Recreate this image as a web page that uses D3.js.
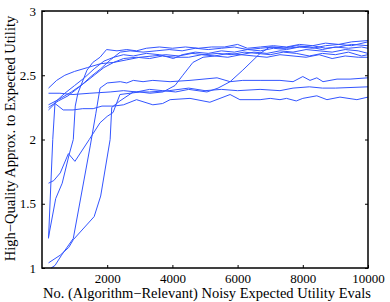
<!DOCTYPE html>
<html>
<head>
<meta charset="utf-8">
<script src="https://cdn.jsdelivr.net/npm/d3@7"></script>
<style>
  body { margin: 0; background: #fff; }
  text { font-family: "Liberation Serif", "Times New Roman", serif; fill: #000; }
</style>
</head>
<body>
<svg width="390" height="302"></svg>
<script>
// x = evals, y = utility, one array per run
const run1 = [[200,2.40],[450,2.46],[700,2.50],[1000,2.53],[1400,2.56],[1800,2.59],[2200,2.60],[2600,2.62],[3000,2.64],[3400,2.65],[3800,2.66],[4200,2.65],[4600,2.67],[5000,2.66],[5400,2.67],[5800,2.66],[6200,2.68],[6600,2.67],[7000,2.66],[7400,2.68],[7800,2.67],[8200,2.65],[8600,2.67],[9000,2.66],[9400,2.68],[9800,2.65],[10000,2.66]]
const run2 = [[200,2.27],[500,2.31],[900,2.37],[1300,2.44],[1600,2.50],[1900,2.56],[2200,2.60],[2500,2.63],[2900,2.64],[3300,2.63],[3700,2.65],[4100,2.64],[4500,2.64],[4900,2.66],[5300,2.65],[5700,2.64],[6100,2.66],[6500,2.65],[6900,2.64],[7300,2.66],[7700,2.65],[8100,2.64],[8500,2.66],[8900,2.63],[9300,2.65],[9700,2.64],[10000,2.64]]
const run3 = [[200,2.25],[500,2.30],[800,2.34],[1200,2.42],[1500,2.49],[1800,2.55],[2100,2.62],[2400,2.68],[2700,2.69],[3100,2.68],[3500,2.69],[3900,2.70],[4300,2.69],[4700,2.71],[5100,2.70],[5500,2.71],[5900,2.72],[6300,2.70],[6700,2.71],[7100,2.72],[7500,2.71],[7900,2.72],[8300,2.73],[8700,2.71],[9100,2.72],[9500,2.74],[10000,2.73]]
const run4 = [[200,1.24],[420,1.54],[620,1.66],[830,1.88],[960,2.00],[1020,2.26],[1100,2.36],[1380,2.54],[1560,2.60],[1780,2.64],[1980,2.70],[2300,2.69],[2600,2.70],[2900,2.69],[3200,2.71],[3600,2.72],[4000,2.71],[4400,2.72],[4800,2.71],[5200,2.72],[5600,2.72],[6000,2.74],[6300,2.71],[6700,2.72],[7100,2.73],[7500,2.72],[7900,2.74],[8300,2.73],[8700,2.75],[9100,2.74],[9500,2.76],[10000,2.77]]
const run5 = [[200,1.66],[360,1.68],[560,1.74],[810,1.89],[1010,1.83],[1450,2.00],[1780,2.13],[2000,2.18],[2180,2.21],[2390,2.35],[2700,2.36],[3000,2.37],[3310,2.36],[3710,2.37],[4080,2.42],[4320,2.50],[4630,2.60],[4940,2.64],[5300,2.65],[5700,2.67],[6100,2.66],[6500,2.68],[6900,2.67],[7300,2.69],[7700,2.68],[8100,2.70],[8500,2.69],[8900,2.68],[9300,2.70],[9700,2.69],[10000,2.67]]
const run6 = [[200,2.36],[550,2.36],[950,2.35],[1470,2.36],[2090,2.37],[2500,2.38],[2900,2.37],[3300,2.39],[3700,2.38],[4100,2.37],[4500,2.39],[5060,2.37],[5400,2.40],[5770,2.45],[6160,2.54],[6690,2.67],[6990,2.72],[7400,2.71],[7800,2.73],[8200,2.72],[8600,2.70],[9000,2.72],[9400,2.71],[9800,2.72],[10000,2.71]]
const run7 = [[200,1.23],[330,2.00],[400,2.29],[700,2.36],[1000,2.42],[1300,2.48],[1600,2.55],[1900,2.61],[2200,2.64],[2500,2.66],[2800,2.65],[3200,2.67],[3600,2.66],[4030,2.63],[4300,2.66],[4700,2.68],[5100,2.67],[5500,2.69],[5900,2.68],[6300,2.70],[6700,2.69],[7100,2.71],[7500,2.70],[7900,2.72],[8300,2.71],[8700,2.73],[9100,2.74],[9500,2.73],[10000,2.76]]
const run8 = [[280,1.00],[400,1.02],[600,1.10],[960,1.23],[1480,1.95],[1650,2.20],[1780,2.40],[2000,2.44],[2400,2.45],[2600,2.44],[2800,2.46],[3100,2.45],[3400,2.46],[3930,2.45],[4540,2.46],[5370,2.48],[5770,2.45],[6160,2.46],[6690,2.46],[7300,2.46],[7700,2.45],[8000,2.49],[8220,2.46],[8430,2.48],[8620,2.45],[9050,2.47],[9450,2.47],[10000,2.48]]
const run9 = [[200,1.04],[560,1.10],[820,1.16],[960,1.22],[1600,1.40],[1800,1.56],[2090,2.00],[2140,2.25],[2390,2.30],[2800,2.37],[3300,2.37],[3900,2.38],[4500,2.40],[5000,2.38],[5500,2.39],[6000,2.38],[6690,2.39],[7300,2.38],[7700,2.40],[8200,2.41],[8600,2.40],[9000,2.40],[10000,2.41]]
const run10 = [[200,2.23],[400,2.28],[650,2.23],[950,2.23],[1250,2.24],[1570,2.24],[1840,2.26],[2200,2.26],[2500,2.27],[2900,2.31],[3400,2.27],[3700,2.28],[3930,2.31],[4540,2.32],[5150,2.29],[5770,2.35],[6070,2.31],[6690,2.31],[7000,2.32],[7300,2.31],[7500,2.32],[7800,2.30],[8000,2.32],[8430,2.34],[8740,2.31],[9140,2.33],[9660,2.31],[10000,2.33]]

const runs = [run1, run2, run3, run4, run5, run6, run7, run8, run9, run10]

const xTicks = [2000, 4000, 6000, 8000, 10000]
const yTicks = [1, 1.5, 2, 2.5, 3]

const xLabel = 'No. (Algorithm\u2212Relevant) Noisy Expected Utility Evals'
const yLabel = 'High\u2212Quality Approx. to Expected Utility'

function draw() {
  let svg = d3.select('svg')
  let left = 42, right = 368, top = 11, bottom = 268

  let x = d3.scaleLinear().domain([0, 10000]).range([left, right])
  let y = d3.scaleLinear().domain([1, 3]).range([bottom, top])

  let line = d3.line()
    .x(d => x(d[0]))
    .y(d => y(d[1]))

  svg.append('g')
    .selectAll('path')
    .data(runs)
    .join('path')
    .attr('d', line)
    .attr('fill', 'none')
    .attr('stroke', '#3355ff')
    .attr('stroke-width', 1)

  // matlab-style box with inward ticks on every side
  let axisStyle = g => {
    g.select('.domain').remove()
    g.selectAll('.tick line').attr('stroke', '#000').attr('stroke-width', 1)
    g.selectAll('.tick text')
      .style('font-family', '"Liberation Serif", "Times New Roman", serif')
      .style('font-size', '13px')
      .attr('fill', '#000')
  }

  svg.append('g')
    .attr('transform', `translate(0,${bottom})`)
    .call(d3.axisBottom(x).tickValues(xTicks).tickSize(-3).tickPadding(6).tickFormat(d3.format('d')))
    .call(axisStyle)

  svg.append('g')
    .attr('transform', `translate(0,${top})`)
    .call(d3.axisTop(x).tickValues(xTicks).tickSize(-3).tickFormat(''))
    .call(axisStyle)

  svg.append('g')
    .attr('transform', `translate(${left},0)`)
    .call(d3.axisLeft(y).tickValues(yTicks).tickSize(-3).tickPadding(6).tickFormat(d3.format('')))
    .call(axisStyle)

  svg.append('g')
    .attr('transform', `translate(${right},0)`)
    .call(d3.axisRight(y).tickValues(yTicks).tickSize(-3).tickFormat(''))
    .call(axisStyle)

  svg.append('rect')
    .attr('x', left)
    .attr('y', top)
    .attr('width', right - left)
    .attr('height', bottom - top)
    .attr('fill', 'none')
    .attr('stroke', '#000')
    .attr('stroke-width', 1.5)

  svg.append('text')
    .attr('x', (left + right) / 2 + 2)
    .attr('y', 298)
    .attr('text-anchor', 'middle')
    .style('font-size', '14.5px')
    .text(xLabel)

  svg.append('text')
    .attr('transform', `translate(15,${(top + bottom) / 2 - 1}) rotate(-90)`)
    .attr('text-anchor', 'middle')
    .style('font-size', '14.5px')
    .text(yLabel)
}

draw()
</script>
</body>
</html>
